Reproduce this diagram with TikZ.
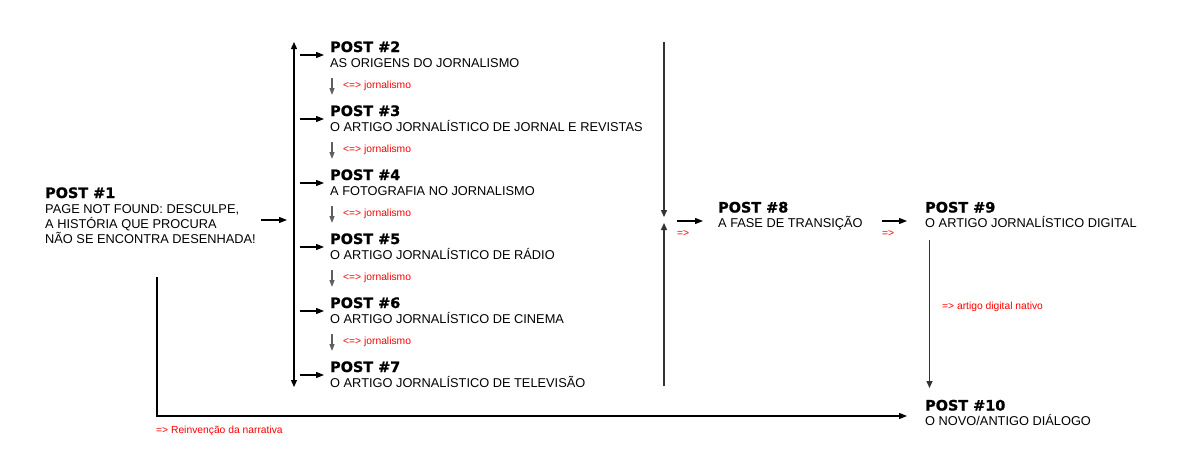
\documentclass[tikz,border=0pt]{standalone}
\usepackage{fontspec}
\setmainfont{Liberation Sans}
\newfontfamily\titlefont{DejaVu Sans}[BoldFeatures={FakeBold=1.2}]
\usetikzlibrary{arrows.meta}
\definecolor{lblred}{RGB}{255,0,0}
\definecolor{midgray}{RGB}{95,95,95}
\definecolor{darkline}{RGB}{50,50,50}
\begin{document}
\begin{tikzpicture}[x=1pt,y=-1pt,
  ttl/.style={anchor=base west, inner sep=0pt, font=\titlefont\bfseries\fontsize{14.4}{15}\selectfont},
  sub/.style={anchor=base west, inner sep=0pt, font=\fontsize{12.8}{15}\selectfont},
  lbl/.style={anchor=base west, inner sep=0pt, text=lblred, font=\fontsize{10.3}{12}\selectfont},
  arr/.style={line width=1.2pt, -{Triangle[length=8pt,width=6pt]}},
  darr/.style={line width=1.2pt, {Triangle[length=7pt,width=6pt]}-{Triangle[length=7pt,width=6pt]}},
  garr/.style={line width=1.2pt, draw=midgray, -{Triangle[length=7pt,width=5pt,fill=midgray]}},
  rarr/.style={line width=1.4pt, draw=darkline, -{Triangle[length=7pt,width=6pt,fill=darkline]}},
  plain/.style={line width=1.2pt}
]
\useasboundingbox (0,0) rectangle (1200,475);

% POST 1
\node[ttl] (p1)  at (45,198) {POST \#1};
\node[sub] (p1a) at (45,213) {PAGE NOT FOUND: DESCULPE,};
\node[sub] (p1b) at (45,228) {A HISTÓRIA QUE PROCURA};
\node[sub] (p1c) at (45,243) {NÃO SE ENCONTRA DESENHADA!};

% left bus
\coordinate (busT) at (294,42);
\coordinate (busB) at (294,387);
\coordinate (j1) at (294,220);
\draw[darr] (busT) -- (busB);
\draw[arr] ([xshift=5pt]p1c.east |- j1) -- ([xshift=-7pt]j1);

% POSTS 2-7
\foreach \i/\s in {2/AS ORIGENS DO JORNALISMO,
                   3/O ARTIGO JORNALÍSTICO DE JORNAL E REVISTAS,
                   4/A FOTOGRAFIA NO JORNALISMO,
                   5/O ARTIGO JORNALÍSTICO DE RÁDIO,
                   6/O ARTIGO JORNALÍSTICO DE CINEMA,
                   7/O ARTIGO JORNALÍSTICO DE TELEVISÃO} {
  \pgfmathsetmacro{\yy}{52+64*(\i-2)}
  \node[ttl] (p\i) at (330,\yy) {POST \#\i};
  \node[sub] (s\i) at (330,\yy+15) {\s};
  \draw[arr] ([xshift=6pt,yshift=-3pt]busT |- p\i.base west) -- ([xshift=-6pt,yshift=-3pt]p\i.base west);
}
\foreach \i in {2,...,6} {
  \draw[garr] ([xshift=2pt,yshift=-11pt]s\i.base west) -- ++(0,17);
  \node[lbl] (l\i) at ([xshift=13pt,yshift=-21pt]s\i.base west) {<=> jornalismo};
}

% right bus
\coordinate (rT) at (664,42);
\coordinate (rB) at (664,386);
\coordinate (rM1) at (664,217);
\coordinate (rM2) at (664,223);
\draw[rarr] (rT) -- (rM1);
\draw[rarr] (rB) -- (rM2);

% POST 8
\node[ttl] (p8) at (718,212.5) {POST \#8};
\node[sub] (s8) at (718,227.5) {A FASE DE TRANSIÇÃO};
\coordinate (a8) at (677,221);
\draw[arr] (a8) -- ([xshift=-15pt]p8.base west |- a8);
\node[lbl] (e8) at (677,236) {=>};

% POST 9
\node[ttl] (p9) at (925,212.5) {POST \#9};
\node[sub] (s9) at (925,227.5) {O ARTIGO JORNALÍSTICO DIGITAL};
\coordinate (a9) at (882,221);
\draw[arr] (a9) -- ([xshift=-18pt]p9.base west |- a9);
\node[lbl] (e9) at (882,236) {=>};

% POST 10
\node[ttl] (p10) at (925,410.5) {POST \#10};
\node[sub] (s10) at (925,425) {O NOVO/ANTIGO DIÁLOGO};
\coordinate (v9) at (929.5,240);
\draw[rarr] (v9) -- (929.5,388);
\node[lbl] (e10) at (942,309) {=> artigo digital nativo};

% bottom L connector
\coordinate (L1) at (157,277);
\coordinate (L2) at (157,416);
\draw[arr] (L1) -- (L2) -- ([xshift=-18pt]p10.base west |- L2);
\node[lbl] (eL) at (156,433) {=> Reinvenção da narrativa};
\end{tikzpicture}
\end{document}
